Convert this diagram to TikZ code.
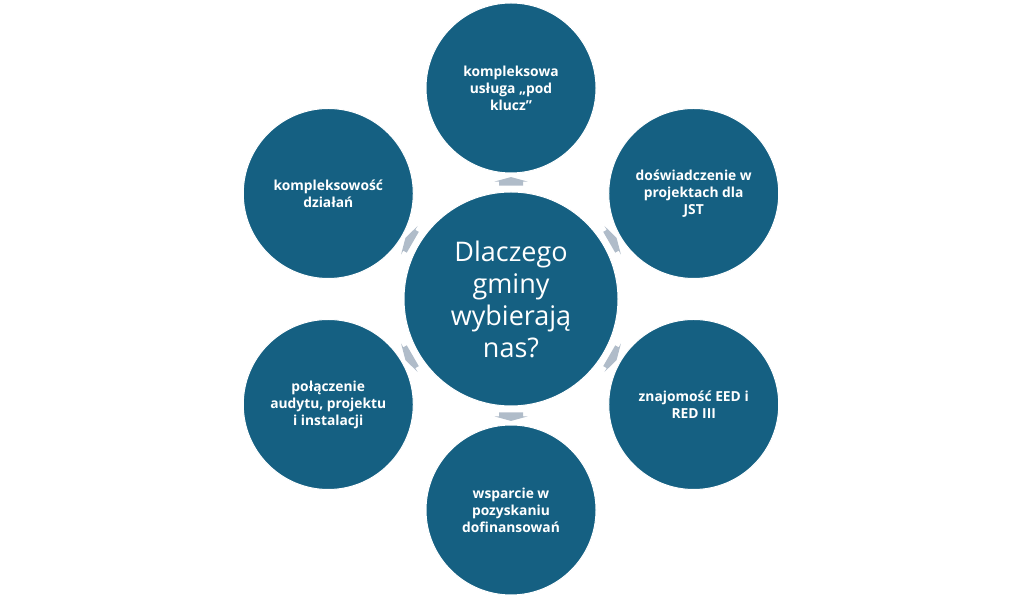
\documentclass[tikz,border=0pt]{standalone}
\usepackage{fontspec}
\setmainfont{Open Sans}
\usetikzlibrary{calc}
\definecolor{circblue}{HTML}{156082}
\definecolor{arrgray}{RGB}{176,188,201}
\begin{document}
\begin{tikzpicture}[x=1pt,y=1pt,
  hub/.style={circle, fill=circblue, draw=white, line width=1pt, minimum size=214pt, inner sep=0pt, text=white, align=center, font=\fontsize{27}{32}\selectfont},
  spoke/.style={circle, fill=circblue, draw=white, line width=1pt, minimum size=170pt, inner sep=0pt, text=white, align=center, font=\bfseries\fontsize{13.8}{17}\selectfont},
  garrow/.pic={\fill[arrgray] (-4,-12) -- (0,-12) -- (0,-16.5) -- (4.5,0) -- (0,16.5) -- (0,12) -- (-4,12) -- cycle;}]
\useasboundingbox (0,0) rectangle (1024,601);
\node[hub] (c) at (511,302) {Dlaczego\\gminy\\wybierają\\nas?};
\node[spoke] (o1) at ($(c)+(90:211)$) {kompleksowa\\usługa „pod\\klucz”};
\node[spoke] (o2) at ($(c)+(30:211)$) {doświadczenie w\\projektach dla\\JST};
\node[spoke] (o3) at ($(c)+(-30:211)$) {znajomość EED i\\RED III};
\node[spoke] (o4) at ($(c)+(-90:211)$) {wsparcie w\\pozyskaniu\\dofinansowań};
\node[spoke] (o5) at ($(c)+(-150:211)$) {połączenie\\audytu, projektu\\i instalacji};
\node[spoke] (o6) at ($(c)+(150:211)$) {kompleksowość\\działań};
\foreach \a/\n in {90/1,30/2,-30/3,-90/4,-150/5,150/6}{
  \path (c) -- (o\n) coordinate[pos=0.552] (a\n);
  \pic[rotate=\a] at (a\n) {garrow};
}
\end{tikzpicture}
\end{document}
